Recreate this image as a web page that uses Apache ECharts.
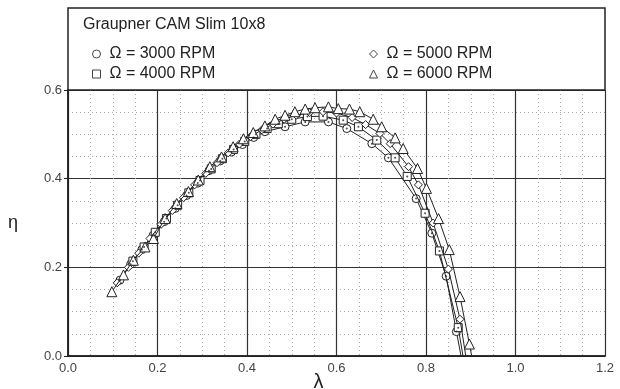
<!DOCTYPE html>
<html><head><meta charset="utf-8">
<script src="https://cdn.jsdelivr.net/npm/echarts@6/dist/echarts.min.js"></script>
<style>html,body{margin:0;padding:0;background:#fff;}#c{width:620px;height:389px;}</style>
</head><body><div id="c"></div>
<script>
const titleText = 'Graupner CAM Slim 10x8';
const seriesNames = ['3000', '4000', '5000', '6000'];
const xTicks = [0, 0.2, 0.4, 0.6, 0.8, 1.0, 1.2];
const yTicks = [0, 0.2, 0.4, 0.6];

const rpm3000 = [[0.116,0.171],[0.14,0.207],[0.165,0.24],[0.19,0.272],[0.215,0.303],[0.24,0.333],[0.265,0.362],[0.29,0.39],[0.315,0.418],[0.34,0.44],[0.365,0.46],[0.39,0.477],[0.415,0.493],[0.44,0.506],[0.485,0.517],[0.53,0.528],[0.582,0.528],[0.623,0.513],[0.679,0.479],[0.716,0.447],[0.778,0.355],[0.813,0.277],[0.845,0.18],[0.868,0.055],[0.882,-0.02]];
const rpm4000 = [[0.145,0.214],[0.17,0.246],[0.195,0.279],[0.22,0.31],[0.245,0.34],[0.27,0.368],[0.295,0.396],[0.32,0.422],[0.345,0.445],[0.37,0.466],[0.395,0.484],[0.42,0.5],[0.445,0.513],[0.47,0.524],[0.5,0.534],[0.535,0.54],[0.57,0.541],[0.615,0.532],[0.649,0.517],[0.69,0.487],[0.731,0.447],[0.758,0.405],[0.798,0.322],[0.83,0.237],[0.872,0.064],[0.886,-0.02]];
const rpm5000 = [[0.11,0.165],[0.135,0.2],[0.158,0.232],[0.183,0.265],[0.208,0.297],[0.233,0.328],[0.258,0.357],[0.283,0.386],[0.308,0.412],[0.333,0.436],[0.358,0.458],[0.383,0.478],[0.408,0.495],[0.433,0.51],[0.458,0.523],[0.483,0.534],[0.51,0.543],[0.54,0.549],[0.57,0.551],[0.6,0.548],[0.635,0.538],[0.665,0.522],[0.697,0.502],[0.72,0.479],[0.761,0.427],[0.783,0.386],[0.816,0.3],[0.85,0.196],[0.876,0.083],[0.892,-0.02]];
const rpm6000 = [[0.098,0.145],[0.124,0.183],[0.146,0.216],[0.172,0.246],[0.191,0.265],[0.217,0.31],[0.243,0.344],[0.269,0.371],[0.291,0.397],[0.317,0.427],[0.343,0.449],[0.369,0.472],[0.392,0.49],[0.414,0.504],[0.44,0.519],[0.463,0.534],[0.485,0.543],[0.507,0.551],[0.53,0.557],[0.552,0.56],[0.582,0.562],[0.604,0.558],[0.629,0.557],[0.652,0.551],[0.682,0.534],[0.701,0.517],[0.731,0.492],[0.749,0.468],[0.781,0.423],[0.801,0.378],[0.828,0.31],[0.852,0.24],[0.876,0.134],[0.897,0.027],[0.906,-0.02]];

const dataSets = [rpm3000, rpm4000, rpm5000, rpm6000];
const symbols = ['circle', 'rect', 'diamond', 'triangle'];
const dotted = [true, true, false, false];
const labelOf = n => 'Ω = ' + n + ' RPM';

const chart = echarts.init(document.getElementById('c'), null, {renderer: 'canvas'});
const FONT = 'Liberation Sans, Arial, sans-serif';

const series = [];
dataSets.forEach((d, i) => {
  series.push({
    name: labelOf(seriesNames[i]), type: 'line', data: d, symbol: symbols[i], symbolSize: symbols[i]==='triangle'?10:8,
    showAllSymbol: true, clip: true, z: 3 + i,
    lineStyle: {color: '#222', width: 1},
    itemStyle: {color: '#fff', borderColor: '#222', borderWidth: 1},
    emphasis: {disabled: true}, animation: false
  });
  if (dotted[i]) {
    series.push({
      type: 'scatter', data: d, symbol: 'circle', symbolSize: 2, clip: true, z: 10,
      itemStyle: {color: '#222'}, silent: true, animation: false
    });
  }
});
series.push({type: 'line', xAxisIndex: 1, yAxisIndex: 1, data: []});

const legendCommon = {orient: 'vertical', top: 41, itemGap: 4, itemWidth: 8, itemHeight: 8,
  itemStyle: {borderWidth: 1, borderColor: '#444', color: '#fff'},
  textStyle: {fontSize: 16, color: '#222', fontFamily: FONT, padding: [0, 0, 0, 4]}};

chart.setOption({
  backgroundColor: '#fff',
  animation: false,
  textStyle: {fontFamily: FONT},
  title: {text: titleText, left: 78, top: 12, textStyle: {fontSize: 16, fontWeight: 'normal', color: '#222', fontFamily: FONT}},
  graphic: [{type: 'rect', shape: {x: 68, y: 8, width: 537, height: 82}, style: {fill: 'none', stroke: '#222', lineWidth: 1.5}, z: 100}],
  legend: [
    Object.assign({data: [0, 1].map(i => ({name: labelOf(seriesNames[i]), icon: symbols[i]})), left: 87}, legendCommon),
    Object.assign({data: [2, 3].map(i => ({name: labelOf(seriesNames[i]), icon: symbols[i]})), left: 364}, legendCommon)
  ],
  grid: {left: 68, right: 15, top: 90, bottom: 33, outerBoundsMode: 'none', containLabel: false},
  xAxis: [{
    type: 'value', min: xTicks[0], max: xTicks[xTicks.length-1], interval: 0.2,
    name: 'λ', nameLocation: 'middle', nameGap: 16, nameMoveOverlap: false,
    nameTextStyle: {fontSize: 20, color: '#222', fontFamily: FONT, verticalAlign: 'top', padding: [0, 36, 0, 0]},
    axisLine: {lineStyle: {color: '#222', width: 1.5}}, axisTick: {show: false},
    axisLabel: {formatter: v => v.toFixed(1), fontSize: 13, color: '#444', margin: 6, fontFamily: FONT},
    splitLine: {show: true, lineStyle: {color: '#333', width: 1.2}},
    minorTick: {show: false, splitNumber: 4},
    minorSplitLine: {show: true, lineStyle: {color: '#aaa', width: 1, type: [1, 3]}}
  }, {
    type: 'value', position: 'top', min: 0, max: 1.2, interval: 0.2, axisLabel: {show: false}, axisTick: {show: false},
    axisLine: {show: true, lineStyle: {color: '#222', width: 1.5}}, splitLine: {show: false}
  }],
  yAxis: [{
    type: 'value', min: yTicks[0], max: yTicks[yTicks.length-1], interval: 0.2,
    name: 'η', nameLocation: 'middle', nameRotate: 0, nameGap: 50, nameMoveOverlap: false, nameTextStyle: {fontSize: 18, color: '#222', fontFamily: FONT},
    axisLine: {show: true, lineStyle: {color: '#222', width: 1.5}}, axisTick: {show: true, length: 4, lineStyle: {color: '#222'}},
    axisLabel: {formatter: v => v.toFixed(1), fontSize: 13, color: '#444', margin: 6, fontFamily: FONT},
    splitLine: {show: true, lineStyle: {color: '#333', width: 1.2}},
    minorTick: {show: false, splitNumber: 4},
    minorSplitLine: {show: true, lineStyle: {color: '#aaa', width: 1, type: [1, 3]}}
  }, {
    type: 'value', position: 'right', min: 0, max: 0.6, interval: 0.2, axisLabel: {show: false}, axisTick: {show: false},
    axisLine: {show: true, lineStyle: {color: '#222', width: 1.5}}, splitLine: {show: false}
  }],
  series: series
});
</script></body></html>
